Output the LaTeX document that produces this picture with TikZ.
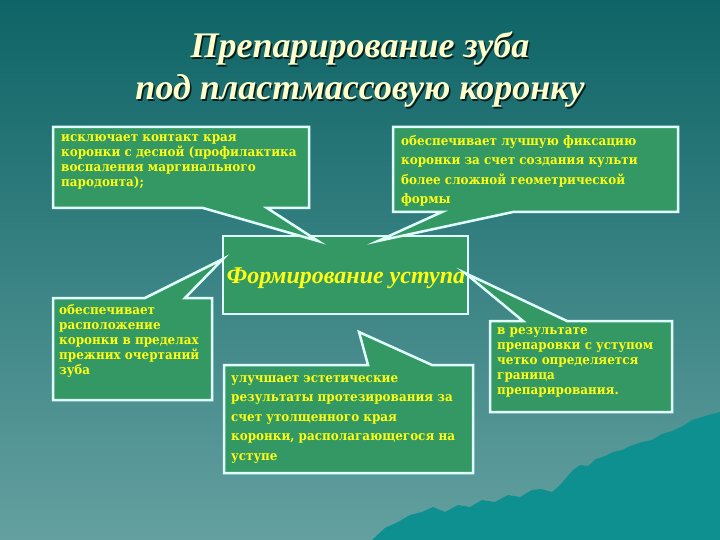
\documentclass[tikz,border=0pt]{standalone}
\usepackage{fontspec}
\setmainfont{Liberation Serif}
\newfontfamily\boxfont[FakeStretch=0.92]{DejaVu Serif}
\usetikzlibrary{shadings}
\definecolor{bgtop}{RGB}{14,100,102}
\definecolor{bgbot}{RGB}{100,160,160}
\definecolor{boxgreen}{RGB}{52,152,100}
\definecolor{boxline}{RGB}{225,255,250}
\definecolor{txtyellow}{RGB}{255,255,20}
\definecolor{titlecol}{RGB}{255,255,204}
\definecolor{mountain}{RGB}{14,144,144}
\tikzset{
  callout/.style={fill=boxgreen, draw=boxline, line width=2.5pt, line join=miter},
  boxtext/.style={anchor=north west, inner sep=0pt, align=left, text=txtyellow,
     font=\boxfont\bfseries\fontsize{13}{15}\selectfont},
  boxtextwide/.style={boxtext, font=\boxfont\bfseries\fontsize{13}{19.5}\selectfont},
  titletext/.style={anchor=base, inner sep=0pt, text=titlecol,
     font=\bfseries\itshape\fontsize{36}{42}\selectfont},
  titleshadow/.style={titletext, text=black!70!bgtop}
}
\begin{document}
\begin{tikzpicture}[x=1pt,y=-1pt]
\useasboundingbox (0,0) rectangle (720,540);
% background
\shade[top color=bgtop, bottom color=bgbot] (0,0) rectangle (720,540);
% mountain
\fill[mountain] (372,540) -- (385,528) -- (398,522) -- (410,515) -- (422,512) -- (433,507)
  -- (445,512) -- (458,505) -- (470,507) -- (482,500) -- (495,502) -- (508,495)
  -- (520,497) -- (532,490) -- (541,489) -- (552,492) -- (560,485) -- (566,478)
  -- (573,470) -- (580,465) -- (588,466) -- (596,459) -- (605,456) -- (613,452)
  -- (622,450) -- (630,446) -- (642,442) -- (652,440) -- (662,434) -- (672,431)
  -- (683,426) -- (692,420) -- (702,417) -- (712,414) -- (720,412) -- (720,540) -- cycle;
% center box
\draw[callout] (223,236) rectangle (468,314);
\node[anchor=base, inner sep=0pt, text=txtyellow, font=\bfseries\itshape\fontsize{24}{28}\selectfont]
  (center) at (346,283) {Формирование уступа};
% callout 1 (top-left)
\draw[callout] (53,127) -- (309,127) -- (309,208) -- (267,208) -- (318,241) -- (203,208) -- (53,208) -- cycle;
\node[boxtext] (t1) at (61,134) {исключает контакт края\\коронки с десной (профилактика\\воспаления маргинального\\пародонта);};
% callout 2 (top-right)
\draw[callout] (393,127) -- (678,127) -- (678,212) -- (513,212) -- (378,241) -- (442,212) -- (393,212) -- cycle;
\node[boxtextwide] (t2) at (401,135) {обеспечивает лучшую фиксацию\\коронки за счет создания культи\\более сложной геометрической\\формы};
% callout 4 (left)
\draw[callout] (53,298) -- (145,298) -- (223,259) -- (185,298) -- (212,298) -- (212,400) -- (53,400) -- cycle;
\node[boxtext] (t4) at (59,304) {обеспечивает\\расположение\\коронки в пределах\\прежних очертаний\\зуба};
% callout 5 (bottom center)
\draw[callout] (224,365) -- (368,365) -- (359,332) -- (432,365) -- (473,365) -- (473,473) -- (224,473) -- cycle;
\node[boxtextwide] (t5) at (231,375) {улучшает эстетические\\результаты протезирования за\\счет утолщенного края\\коронки, располагающегося на\\уступе};
% callout 6 (right)
\draw[callout] (490,321) -- (523,321) -- (465,273) -- (567,321) -- (672,321) -- (672,412) -- (490,412) -- cycle;
\node[boxtext] (t6) at (497,327) {в результате\\препаровки с уступом\\четко определяется\\граница\\препарирования.};
% title
\node[titleshadow] (title1s) at (361.5,59.5) {Препарирование зуба};
\node[titletext] (title1) at (360,58) {Препарирование зуба};
\node[titleshadow] (title2s) at (361.5,101.5) {под пластмассовую коронку};
\node[titletext] (title2) at (360,100) {под пластмассовую коронку};
\end{tikzpicture}
\end{document}
